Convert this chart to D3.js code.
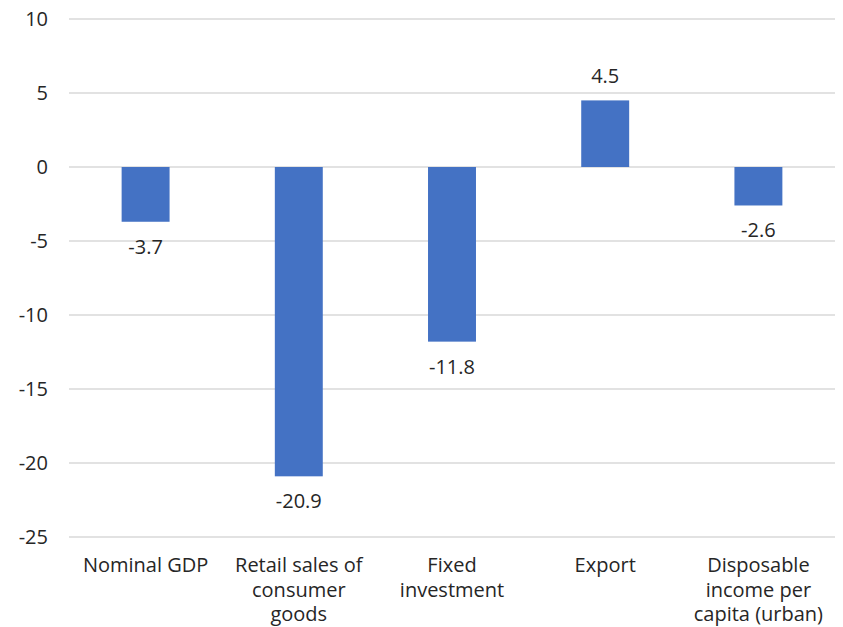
<!DOCTYPE html>
<html>
<head>
<meta charset="utf-8">
<script src="https://cdn.jsdelivr.net/npm/d3@7"></script>
<style>
  html, body { margin: 0; padding: 0; background: #fff; }
  svg { display: block; font-family: "Open Sans", sans-serif; }
</style>
</head>
<body>
<div id="chart"></div>
<script>
// Datos del gráfico
const categories = [
  ["Nominal GDP"],
  ["Retail sales of", "consumer", "goods"],
  ["Fixed", "investment"],
  ["Export"],
  ["Disposable", "income per", "capita (urban)"]
];
const values = [-3.7, -20.9, -11.8, 4.5, -2.6];
const yTicks = [10, 5, 0, -5, -10, -15, -20, -25];

const width = 843, height = 627;
const margin = { top: 19, right: 8, bottom: 90, left: 69 };
const w = width - margin.left - margin.right;
const h = height - margin.top - margin.bottom;
const fontSize = "20px";
const textColor = "#262626";

const svg = d3.select("#chart").append("svg")
  .attr("width", width)
  .attr("height", height);

const g = svg.append("g").attr("transform", `translate(${margin.left},${margin.top})`);

const x = d3.scaleBand().domain(d3.range(values.length)).range([0, w]).paddingInner(0.687).paddingOuter(0.3435);
const y = d3.scaleLinear().domain([-25, 10]).range([h, 0]);

// Líneas de cuadrícula
g.selectAll(".grid").data(yTicks).enter().append("line")
  .attr("x1", 0).attr("x2", w)
  .attr("y1", d => y(d)).attr("y2", d => y(d))
  .attr("stroke", "#d9d9d9").attr("stroke-width", 1.3);

// Eje Y (guion normal en lugar del signo menos)
const yAxis = g.append("g").call(d3.axisLeft(y).tickValues(yTicks).tickSize(0).tickPadding(21).tickFormat(d => String(d)));
yAxis.select(".domain").remove();
yAxis.selectAll("text")
  .style("font-size", fontSize).style("font-family", "'Open Sans', sans-serif").style("fill", textColor);

// Barras
g.selectAll(".bar").data(values).enter().append("rect")
  .attr("x", (d, i) => x(i))
  .attr("width", x.bandwidth())
  .attr("y", d => y(Math.max(0, d)))
  .attr("height", d => Math.abs(y(d) - y(0)))
  .attr("fill", "#4472c4");

// Etiquetas de valores
g.selectAll(".lbl").data(values).enter().append("text")
  .attr("x", (d, i) => x(i) + x.bandwidth() / 2)
  .attr("y", d => d < 0 ? y(d) + 32 : y(d) - 17)
  .attr("text-anchor", "middle")
  .style("font-size", fontSize).style("fill", textColor)
  .text(d => d.toFixed(1));

// Etiquetas de categorías
const cat = g.selectAll(".cat").data(categories).enter().append("text")
  .attr("x", (d, i) => x(i) + x.bandwidth() / 2)
  .attr("y", h + 35)
  .attr("text-anchor", "middle")
  .style("font-size", fontSize).style("fill", textColor);
cat.selectAll("tspan").data(d => d).enter().append("tspan")
  .attr("x", function () { return d3.select(this.parentNode).attr("x"); })
  .attr("dy", (d, i) => i === 0 ? 0 : 24.5)
  .text(d => d);
</script>
</body>
</html>
